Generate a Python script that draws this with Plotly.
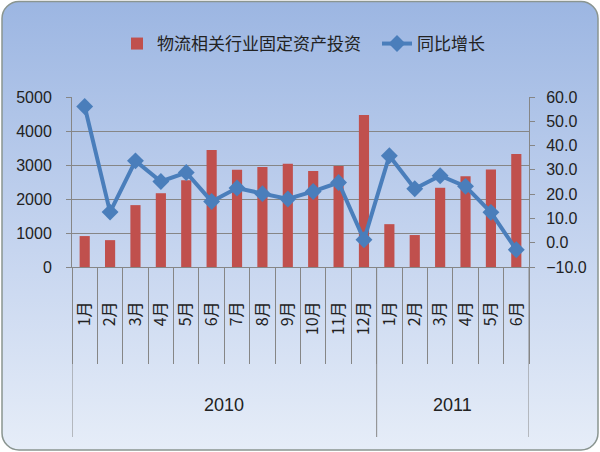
import base64
import plotly.graph_objects as go

years = ["2010"] * 12 + ["2011"] * 6
months = ["1月", "2月", "3月", "4月", "5月", "6月", "7月", "8月", "9月", "10月", "11月", "12月",
          "1月", "2月", "3月", "4月", "5月", "6月"]
investment = [910, 790, 1820, 2170, 2550, 3440, 2860, 2940, 3040, 2820, 2970, 4470,
              1260, 940, 2330, 2670, 2870, 3320]
growth = [56.1, 12.6, 33.7, 25.2, 28.9, 17.0, 22.5, 20.2, 18.0, 21.1, 24.8, 1.2,
          35.8, 22.2, 27.6, 23.2, 12.5, -2.9]
left_ticks = [0, 1000, 2000, 3000, 4000, 5000]
right_ticks = [-10, 0, 10, 20, 30, 40, 50, 60]

W, H = 600, 452
L, R, T, B = 72, 529, 97, 267
pw, ph = R - L, B - T

cats = [f"{y}-{m}" for y, m in zip(years, months)]

svg = f'''<svg xmlns="http://www.w3.org/2000/svg" width="{W}" height="{H}">
<defs><linearGradient id="g" x1="0" y1="0" x2="0" y2="1">
<stop offset="0" stop-color="#9cb6e2"/><stop offset="0.5" stop-color="#c2d2ee"/><stop offset="1" stop-color="#e6edf8"/>
</linearGradient></defs>
<rect x="2" y="1.5" width="{W-4}" height="{H-3.5}" rx="17" ry="17" fill="url(#g)" stroke="#8a9590" stroke-width="1.5"/>
</svg>'''
src = "data:image/svg+xml;base64," + base64.b64encode(svg.encode()).decode()

fig = go.Figure()
fig.add_trace(go.Bar(
    x=cats, y=investment, name="物流相关行业固定资产投资", legend="legend",
    marker=dict(color="#c0504d", line=dict(width=0)), width=0.4,
))
fig.add_trace(go.Scatter(
    x=cats, y=growth, name="同比增长", yaxis="y2", legend="legend2",
    mode="lines+markers",
    line=dict(color="#4a7ebb", width=4),
    marker=dict(symbol="diamond", size=13, color="#4a7ebb"),
))

# year group separators and labels (axis decoration, derived from the category list)
shapes, annotations = [], []
bounds = [-0.5] + [i - 0.5 for i in range(1, len(years)) if years[i] != years[i - 1]] + [len(years) - 0.5]
for b in bounds:
    shapes.append(dict(type="line", xref="x", yref="paper", x0=b, x1=b, y0=0, y1=-(437 - B) / ph,
                       line=dict(color="#868686", width=1)))
for a, b in zip(bounds[:-1], bounds[1:]):
    annotations.append(dict(text=years[int(a + 0.5)], xref="x", yref="paper", x=(a + b) / 2,
                            y=-(405 - B) / ph, showarrow=False, yanchor="middle",
                            font=dict(family="Liberation Sans, Arial", size=18, color="#222222")))

legfont = dict(family="Noto Sans CJK SC", size=17, color="#222222")
axfont = dict(family="Liberation Sans, Arial", size=16, color="#222222")
fig.update_layout(
    width=W, height=H,
    margin=dict(l=L, r=W - R, t=T, b=H - B, autoexpand=False),
    paper_bgcolor="white", plot_bgcolor="white",
    showlegend=True,
    legend=dict(orientation="h", xref="container", yref="container", x=117 / W, xanchor="left",
                y=1 - 26 / H, yanchor="top", font=legfont, bgcolor="rgba(0,0,0,0)"),
    legend2=dict(orientation="h", xref="container", yref="container", x=377 / W, xanchor="left",
                 y=1 - 26 / H, yanchor="top", font=legfont, bgcolor="rgba(0,0,0,0)"),
    images=[dict(source=src, xref="paper", yref="paper", x=-L / pw, y=1 + T / ph,
                 sizex=W / pw, sizey=H / ph, sizing="stretch", layer="below",
                 xanchor="left", yanchor="top")],
    shapes=shapes, annotations=annotations,
    xaxis=dict(type="category", tickvals=cats, ticktext=months, range=[-0.5, len(cats) - 0.5],
               showgrid=False, showline=True,
               linecolor="#868686", ticks="outside", tickson="boundaries", ticklen=96,
               tickcolor="#868686", tickangle=-90, ticklabelstandoff=27,
               tickfont=dict(family="Noto Sans CJK SC", size=16, color="#222222")),
    yaxis=dict(range=[0, 5000], tickvals=left_ticks, showgrid=True, gridcolor="#868686",
               gridwidth=1, showline=True, linecolor="#868686", ticks="outside", ticklen=5,
               tickcolor="#868686", tickfont=axfont, zeroline=False, ticklabelstandoff=11),
    yaxis2=dict(range=[-10, 60], tickvals=right_ticks, tickformat=".1f", overlaying="y",
                side="right", showgrid=False, showline=True, linecolor="#868686",
                ticks="outside", ticklen=5, tickcolor="#868686", tickfont=axfont, zeroline=False,
                ticklabelstandoff=8),
)
fig.write_html("out.html", config={"displayModeBar": False},
               post_script="document.body.style.margin='0';")
